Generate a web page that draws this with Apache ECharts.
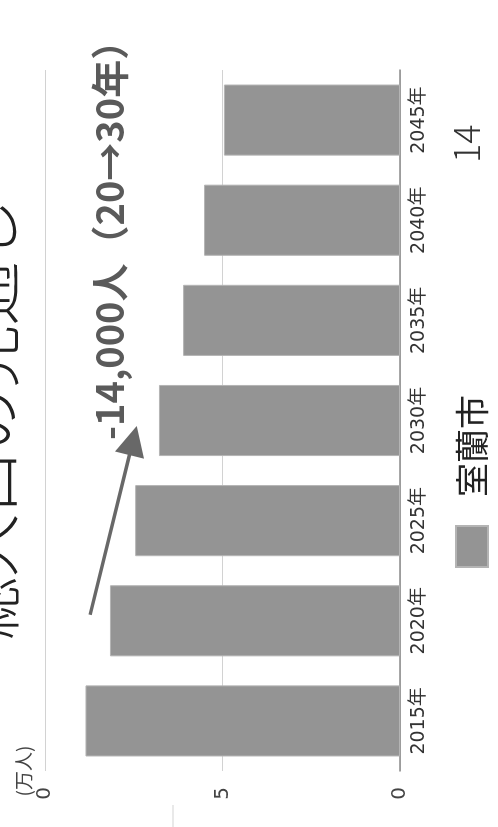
<!DOCTYPE html>
<html>
<head>
<meta charset="utf-8">
<script src="https://cdn.jsdelivr.net/npm/echarts@6/dist/echarts.min.js"></script>
<style>
html,body{margin:0;padding:0;background:#fff;overflow:hidden;width:498px;height:827px;}
#chart{position:absolute;left:0;top:0;width:827px;height:498px;transform-origin:0 0;transform:translateY(827px) rotate(-90deg);}
</style>
</head>
<body>
<div id="chart"></div>
<script>
// ---- data ----
const categories = ['2015年','2020年','2025年','2030年','2035年','2040年','2045年'];
const population = [8.86, 8.17, 7.46, 6.79, 6.11, 5.52, 4.96]; // 万人
const valueTicks = [0, 5, 10];
const valueTickLabels = ['0', '5', '0'];
const seriesName = '室蘭市';
const titleText = '総人口の見通し';
const unitText = '(万人)';
const noteText = '-14,000人（20→30年）';
const pageNumber = '14';
// arrow annotation (fractional category position, value): above 2020 -> above 2030
const arrowFrom = [1.06, 8.73];
const arrowTo = [2.8, 7.52];

const FONT = '"Noto Sans CJK JP", "Noto Sans", sans-serif';
const NUMFONT = '"DejaVu Sans", "Noto Sans CJK JP", sans-serif';
const chart = echarts.init(document.getElementById('chart'), null, {renderer:'canvas', width:827, height:498});

const option = {
  animation: false,
  backgroundColor: '#ffffff',
  title: {
    text: titleText,
    left: 182, top: -47,
    textStyle: {fontFamily: FONT, fontSize: 63, fontWeight: 300, color: '#222'}
  },
  legend: {
    data: [seriesName],
    left: 259, top: 455,
    padding: 0,
    itemWidth: 41, itemHeight: 32,
    icon: 'rect',
    textStyle: {fontFamily: FONT, fontSize: 34, color: '#222', padding: [0,0,0,24]}
  },
  grid: {left: 56, right: 70, top: 45, bottom: 98, containLabel: false},
  xAxis: [{
    type: 'category',
    data: categories,
    axisLine: {show: true, onZero: false, lineStyle: {color: '#8a8a8a', width: 1.5}},
    axisTick: {show: false},
    axisLabel: {fontFamily: NUMFONT, fontSize: 19, color: '#333', margin: 10}
  }, {
    // hidden helper axis aligned with category centres, for the annotation arrow
    type: 'value', min: -0.5, max: categories.length - 0.5, show: false,
    axisLine: {onZero: false},
    splitLine: {show: false}
  }],
  yAxis: {
    type: 'value',
    min: valueTicks[0], max: valueTicks[valueTicks.length-1], interval: 5,
    name: unitText,
    nameLocation: 'end',
    nameGap: 12,
    nameTextStyle: {fontFamily: FONT, fontSize: 19, color: '#444', align: 'center'},
    axisLine: {show: false, onZero: false},
    axisTick: {show: false},
    splitLine: {show: true, lineStyle: {color: '#d2d2d2', width: 1.2}},
    axisLabel: {
      fontFamily: NUMFONT, fontSize: 20, color: '#444', margin: 16,
      formatter: v => { const i = valueTicks.indexOf(v); return i >= 0 ? valueTickLabels[i] : ''; }
    }
  },
  series: [{
    name: seriesName,
    type: 'bar',
    data: population,
    barCategoryGap: '29%',
    itemStyle: {color: '#949494', borderColor: '#b4b4b4', borderWidth: 1},
    silent: true
  }, {
    name: 'arrow',
    type: 'line',
    xAxisIndex: 1,
    data: [],
    silent: true,
    markLine: {
      silent: true,
      symbol: ['none', 'triangle'],
      symbolSize: [30, 30],
      label: {show: false},
      lineStyle: {color: '#686868', width: 3.5, type: 'solid'},
      data: [[{coord: arrowFrom}, {coord: arrowTo}]]
    }
  }],
  graphic: [
    {type: 'text', left: 387, top: 91,
     style: {text: noteText, font: 'bold 38px ' + FONT, fill: '#5a5a5a'}},
    {type: 'text', left: 664, top: 448,
     style: {text: pageNumber, font: '300 36px ' + FONT, fill: '#333'}},
    {type: 'line', shape: {x1: 0, y1: 173, x2: 22, y2: 173},
     style: {stroke: '#e2e2e2', lineWidth: 1.5}}
  ]
};
chart.setOption(option);
</script>
</body>
</html>
